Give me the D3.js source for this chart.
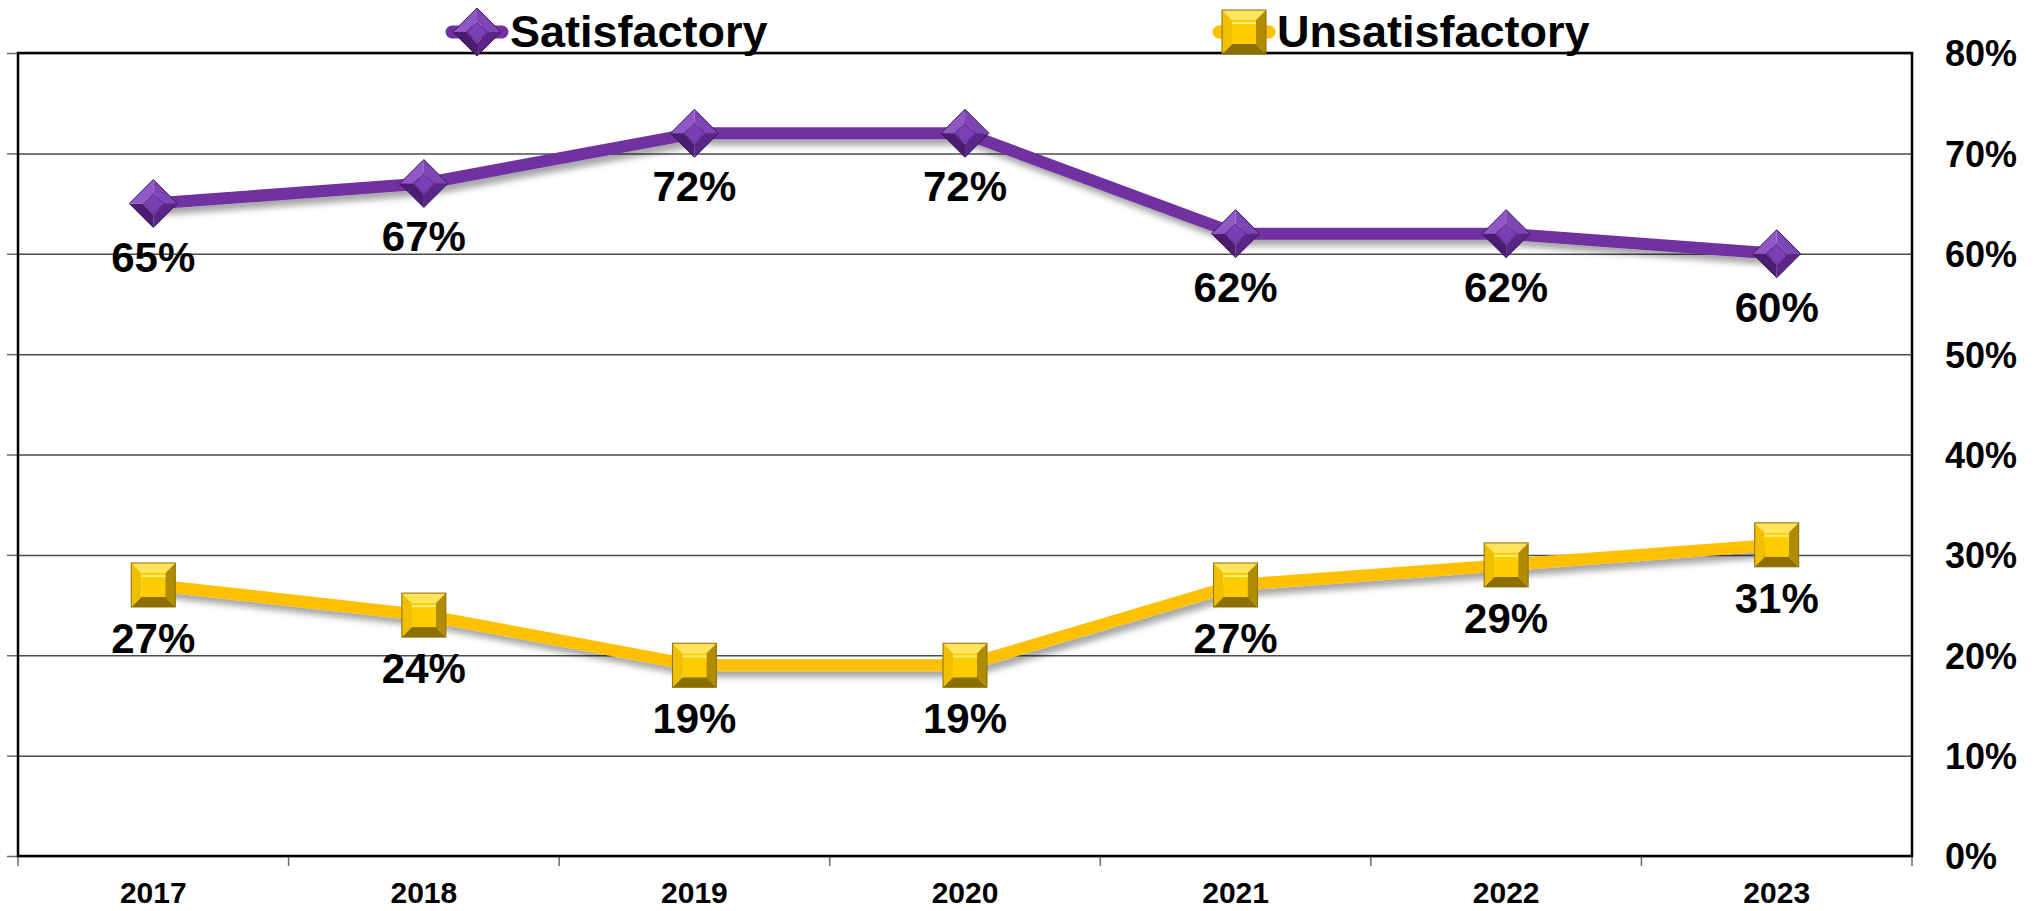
<!DOCTYPE html>
<html>
<head>
<meta charset="utf-8">
<script src="https://cdn.jsdelivr.net/npm/d3@7"></script>
<style>
  body { margin: 0; background: #fff; }
  svg { display: block; font-family: "Liberation Sans", Arial, sans-serif; font-weight: bold; }
</style>
</head>
<body>
<div id="chart"></div>
<script>
// Data.
const years = ["2017", "2018", "2019", "2020", "2021", "2022", "2023"];
const satisfactory = [0.65, 0.67, 0.72, 0.72, 0.62, 0.62, 0.60];
const unsatisfactory = [0.27, 0.24, 0.19, 0.19, 0.27, 0.29, 0.31];
const yTicks = [0, 0.1, 0.2, 0.3, 0.4, 0.5, 0.6, 0.7, 0.8];

const width = 2036;
const height = 911;
const marginTop = 53;
const marginRight = 124;
const marginBottom = 55;
const marginLeft = 18;

const series = [
    { name: "Satisfactory", values: satisfactory, color: "#7030a0", shape: "diamond", legendX: 477 },
    { name: "Unsatisfactory", values: unsatisfactory, color: "#ffc000", shape: "square", legendX: 1244 }
];

const x = d3.scaleBand()
    .domain(years)
    .range([marginLeft, width - marginRight])
    .padding(0);

const y = d3.scaleLinear()
    .domain([0, 0.8])
    .range([height - marginBottom, marginTop]);

const cx = d => x(d) + x.bandwidth() / 2;

const svg = d3.select("#chart").append("svg")
    .attr("width", width)
    .attr("height", height)
    .attr("viewBox", [0, 0, width, height]);

const defs = svg.append("defs");
defs.append("filter")
    .attr("id", "shadow")
    .attr("x", "-5%").attr("y", "-20%").attr("width", "110%").attr("height", "160%")
    .append("feDropShadow")
    .attr("dx", 4).attr("dy", 6)
    .attr("stdDeviation", 3)
    .attr("flood-color", "#000")
    .attr("flood-opacity", 0.35);

// Gridlines + small ticks on the left.
svg.append("g")
    .attr("transform", `translate(${marginLeft},0)`)
    .call(d3.axisLeft(y).tickValues(yTicks).tickSize(11).tickFormat(""))
    .call(g => g.select(".domain").remove())
    .call(g => g.selectAll(".tick line").attr("stroke", "#6b6b6b").attr("stroke-width", 1.5))
    .call(g => g.selectAll(".tick").append("line")
        .attr("x2", width - marginLeft - marginRight)
        .attr("stroke", "#4d4d4d")
        .attr("stroke-width", 1.5));

// Right-hand percent labels.
svg.append("g")
    .attr("transform", `translate(${width - marginRight},0)`)
    .call(d3.axisRight(y).tickValues(yTicks).tickSize(0).tickPadding(33).tickFormat(d3.format(".0%")))
    .call(g => g.select(".domain").remove())
    .call(g => g.selectAll("text")
        .attr("font-size", 36)
        .attr("font-family", "Liberation Sans, Arial, sans-serif")
        .attr("font-weight", "bold")
        .attr("fill", "#000")
        .attr("dy", "0.36em"));

// Category labels.
svg.append("g")
    .attr("transform", `translate(0,${height - marginBottom})`)
    .call(d3.axisBottom(x).tickSize(0).tickPadding(26))
    .call(g => g.select(".domain").remove())
    .call(g => g.selectAll("text")
        .attr("font-size", 30)
        .attr("font-family", "Liberation Sans, Arial, sans-serif")
        .attr("font-weight", "bold")
        .attr("fill", "#000")
        .attr("dy", "0.71em"));

// Ticks between categories on the bottom axis.
const bounds = years.map(d => x(d)).concat([width - marginRight]);
svg.append("g")
    .selectAll("line")
    .data(bounds)
    .join("line")
    .attr("x1", d => d).attr("x2", d => d)
    .attr("y1", height - marginBottom).attr("y2", height - marginBottom + 10)
    .attr("stroke", "#6b6b6b")
    .attr("stroke-width", 1.5);

// Plot frame.
svg.append("rect")
    .attr("x", marginLeft)
    .attr("y", marginTop)
    .attr("width", width - marginLeft - marginRight)
    .attr("height", height - marginTop - marginBottom)
    .attr("fill", "none")
    .attr("stroke", "#000")
    .attr("stroke-width", 2.5);

const line = d3.line()
    .x((d, i) => cx(years[i]))
    .y(d => y(d));

function marker(g, shape) {
    if (shape === "diamond") {
        const R = 24, r = 11;
        const o = [[0, -R], [R, 0], [0, R], [-R, 0]];
        const n = [[0, -r], [r, 0], [0, r], [-r, 0]];
        const shades = ["#7e45b5", "#5a2687", "#4a1d70", "#8f58c4"];
        // facets: top-right, bottom-right, bottom-left, top-left
        for (let k = 0; k < 4; k++) {
            const k2 = (k + 1) % 4;
            g.append("polygon")
                .attr("points", [o[k], o[k2], n[k2], n[k]].map(p => p.join(",")).join(" "))
                .attr("fill", shades[k]);
        }
        g.append("polygon")
            .attr("points", n.map(p => p.join(",")).join(" "))
            .attr("fill", "#6b33a3");
        g.append("polygon")
            .attr("points", [[0, -r + 2], [r - 2, 0], [0, r - 2], [-r + 2, 0]].map(p => p.join(",")).join(" "))
            .attr("fill", "#7a3fb3");
        g.append("polygon")
            .attr("points", o.map(p => p.join(",")).join(" "))
            .attr("fill", "none")
            .attr("stroke", "#3d175e")
            .attr("stroke-width", 1);
    } else {
        const R = 22, r = 12;
        const o = [[-R, -R], [R, -R], [R, R], [-R, R]];
        const n = [[-r, -r], [r, -r], [r, r], [-r, r]];
        const shades = ["#ffe45c", "#b08c00", "#8c6f00", "#f0c000"];
        // facets: top, right, bottom, left
        for (let k = 0; k < 4; k++) {
            const k2 = (k + 1) % 4;
            g.append("polygon")
                .attr("points", [o[k], o[k2], n[k2], n[k]].map(p => p.join(",")).join(" "))
                .attr("fill", shades[k]);
        }
        g.append("rect")
            .attr("x", -r).attr("y", -r).attr("width", 2 * r).attr("height", 2 * r)
            .attr("fill", "#ffcc00");
        g.append("line")
            .attr("x1", -r).attr("x2", r).attr("y1", -r + 3).attr("y2", -r + 3)
            .attr("stroke", "#fff07a").attr("stroke-width", 2);
        g.append("rect")
            .attr("x", -R).attr("y", -R).attr("width", 2 * R).attr("height", 2 * R)
            .attr("fill", "none")
            .attr("stroke", "#8a6d00")
            .attr("stroke-width", 1);
    }
}

series.forEach(s => {
    svg.append("path")
        .datum(s.values)
        .attr("fill", "none")
        .attr("stroke", s.color)
        .attr("stroke-width", 12)
        .attr("stroke-linejoin", "round")
        .attr("filter", "url(#shadow)")
        .attr("d", line);
});

series.forEach(s => {
    svg.append("g")
        .selectAll("g")
        .data(s.values)
        .join("g")
        .attr("transform", (d, i) => `translate(${cx(years[i])},${y(d)})`)
        .each(function () { marker(d3.select(this), s.shape); });

    svg.append("g")
        .selectAll("text")
        .data(s.values)
        .join("text")
        .attr("x", (d, i) => cx(years[i]))
        .attr("y", d => y(d) + 68)
        .attr("text-anchor", "middle")
        .attr("font-size", 42)
        .attr("fill", "#000")
        .text(d => d3.format(".0%")(d));
});

// Legend on top of the frame.
const legend = svg.append("g")
    .selectAll("g")
    .data(series)
    .join("g")
    .attr("transform", d => `translate(${d.legendX},32)`);

legend.append("line")
    .attr("x1", -25).attr("x2", 25)
    .attr("stroke", d => d.color)
    .attr("stroke-width", 13)
    .attr("stroke-linecap", "round");

legend.append("g").each(function (d) { marker(d3.select(this), d.shape); });

legend.append("text")
    .attr("x", 33)
    .attr("y", 15)
    .attr("font-size", 45)
    .attr("fill", "#000")
    .text(d => d.name);
</script>
</body>
</html>
